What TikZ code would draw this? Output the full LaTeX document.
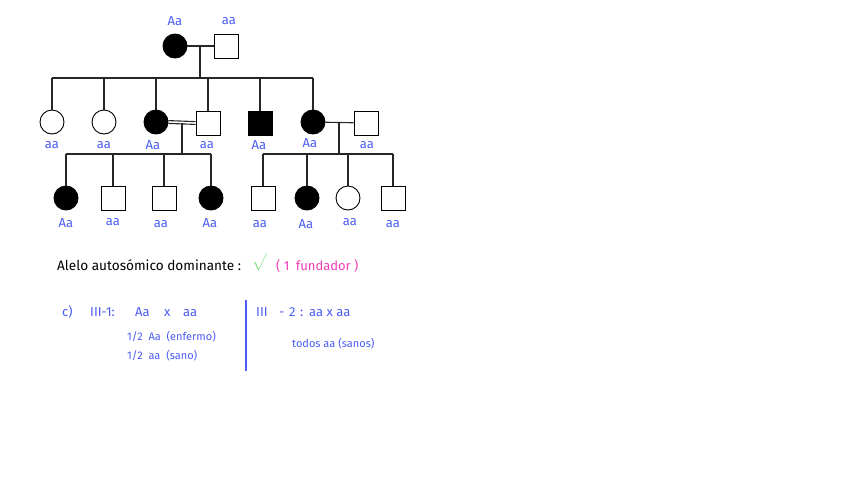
\documentclass[tikz,border=0pt]{standalone}
\usepackage{fontspec}
\setmainfont{Fira Sans}
\definecolor{lblue}{HTML}{4A5CF2}
\definecolor{lgreen}{HTML}{8CE08A}
\definecolor{lpink}{HTML}{F23DB4}
\begin{document}
\begin{tikzpicture}[x=1pt,y=-1pt,
  fem/.style={circle,draw=black,line width=0.9pt,minimum size=24pt,inner sep=0pt},
  mal/.style={rectangle,draw=black,line width=0.9pt,minimum size=24pt,inner sep=0pt},
  aff/.style={fill=black},
  lnk/.style={line width=1.1pt,black!85},
  gt/.style={text=lblue,font=\fontsize{13}{14}\selectfont,inner sep=0pt},
  note/.style={text=lblue,inner sep=0pt,anchor=west},
  big/.style={text=lblue,inner sep=0pt,anchor=base west,font=\fontsize{13}{14}\selectfont},
  small/.style={note,font=\fontsize{11}{12}\selectfont}]
\useasboundingbox (0,0) rectangle (848,477);
% Generation I
\node[fem,aff] (i1) at (175,46) {};
\node[mal] (i2) at (226,46) {};
\coordinate (m1) at (200,46);
\draw[lnk] (i1) -- (i2);
\coordinate (s1) at (200,78);
\draw[lnk] (m1) -- (s1);
% Generation II
\node[fem] (ii1) at (52,122) {};
\node[fem] (ii2) at (104,122) {};
\node[fem,aff] (ii3) at (156,122) {};
\node[mal] (ii4) at (208,123) {};
\node[mal,aff] (ii5) at (260,123) {};
\node[fem,aff] (ii6) at (313,122) {};
\node[mal] (ii7) at (366,123) {};
\coordinate (sl) at (52,78);
\coordinate (sr) at (313,78);
\draw[lnk] (sl) -- (sr);
\foreach \n/\x in {ii1/52,ii2/104,ii3/156,ii4/208,ii5/260,ii6/313}
  \draw[lnk] (\x,78) -- (\n.north);
% double marriage
\draw[lnk] ([yshift=-1.4pt]ii3.east) -- ([yshift=-1.4pt]ii4.west);
\draw[lnk] ([yshift=1.4pt]ii3.east) -- ([yshift=1.4pt]ii4.west);
\draw[lnk] (ii6) -- (ii7);
\coordinate (m2) at (182,123);
\coordinate (m3) at (339,123);
\draw[lnk] (m2) -- (182,154);
\draw[lnk] (m3) -- (339,154);
% Generation III left
\node[fem,aff] (iii1) at (66,198) {};
\node[mal] (iii2) at (113,198) {};
\node[mal] (iii3) at (164,198) {};
\node[fem,aff] (iii4) at (211,198) {};
\draw[lnk] (66,154) -- (211,154);
\foreach \n/\x in {iii1/66,iii2/113,iii3/164,iii4/211}
  \draw[lnk] (\x,154) -- (\n.north);
% Generation III right
\node[mal] (iii5) at (263,198) {};
\node[fem,aff] (iii6) at (307,198) {};
\node[fem] (iii7) at (348,198) {};
\node[mal] (iii8) at (393,198) {};
\draw[lnk] (263,154) -- (393,154);
\foreach \n/\x in {iii5/263,iii6/307,iii7/348,iii8/393}
  \draw[lnk] (\x,154) -- (\n.north);
% genotype labels
\node[gt] (g1) at (175,21) {Aa};
\node[gt] (g2) at (229,21) {aa};
\node[gt] (g3) at (52,145) {aa};
\node[gt] (g4) at (104,145) {aa};
\node[gt] (g5) at (153,145) {Aa};
\node[gt] (g6) at (207,145) {aa};
\node[gt] (g7) at (259,145) {Aa};
\node[gt] (g8) at (310,143) {Aa};
\node[gt] (g9) at (367,145) {aa};
\node[gt] (g10) at (66,223) {Aa};
\node[gt] (g11) at (113,222) {aa};
\node[gt] (g12) at (161,224) {aa};
\node[gt] (g13) at (210,223) {Aa};
\node[gt] (g14) at (260,224) {aa};
\node[gt] (g15) at (306,224) {Aa};
\node[gt] (g16) at (350,222) {aa};
\node[gt] (g17) at (393,224) {aa};
% text
\node[anchor=west,inner sep=0pt,font=\fontsize{13.6}{16}\selectfont] (t1) at (57,265) {Alelo autosómico dominante :};
\node[anchor=west,inner sep=0pt,text=lgreen,font=\fontsize{19}{20}\selectfont] (chk) at (252,262) {$\surd$};
\node[anchor=west,inner sep=0pt,text=lpink,font=\fontsize{13}{14}\selectfont] (t2) at (276,266) {( 1\enspace fundador )};
\node[big] (c1a) at (62,316) {c)};
\node[big] (c1b) at (90,316) {III-1:};
\node[big] (c1c) at (135,316) {Aa};
\node[big] (c1d) at (164,316) {x};
\node[big] (c1e) at (183,316) {aa};
\node[small] (c2) at (127,337) {1/2\ \ Aa\ \ (enfermo)};
\node[small] (c3) at (127,356) {1/2\ \ aa\ \ (sano)};
\coordinate (v1) at (246,300);
\coordinate (v2) at (246,371);
\draw[lblue,line width=1.1pt] (v1) -- (v2);
\node[big] (d1a) at (256,316) {III};
\node[big] (d1b) at (279,316) {-};
\node[big] (d1c) at (289,316) {2};
\node[big] (d1d) at (300,316) {:};
\node[big] (d1e) at (309,316) {aa x aa};
\node[small] (d2) at (292,344) {todos\ aa\ (sanos)};
\end{tikzpicture}
\end{document}
